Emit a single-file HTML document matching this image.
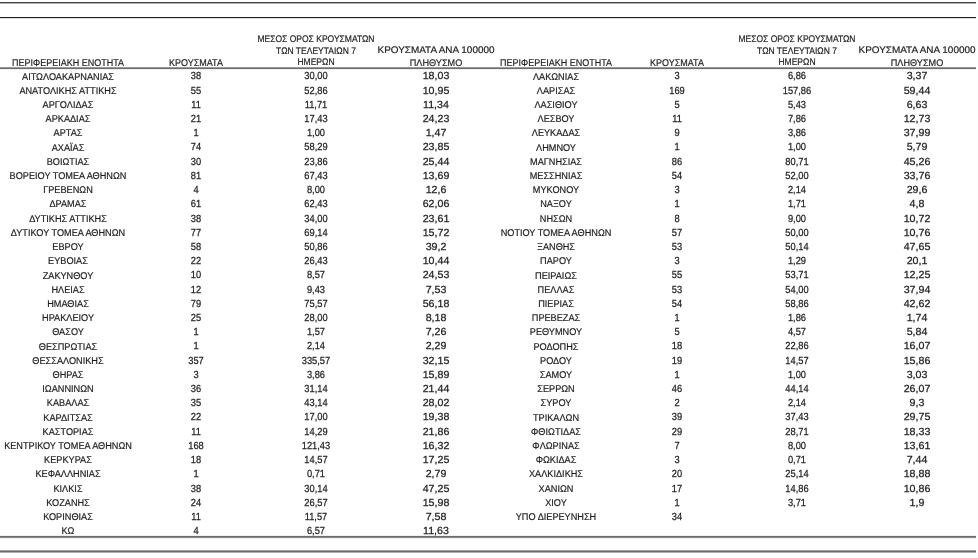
<!DOCTYPE html>
<html><head><meta charset="utf-8"><style>
html,body{margin:0;padding:0;background:#fff;}
#w{position:absolute;left:0;top:0;width:978px;height:558px;background:#fff;filter:grayscale(1);}
body{width:978px;height:558px;position:relative;overflow:hidden;text-rendering:geometricPrecision;font-family:"Liberation Sans",sans-serif;color:#1e1e1e;}
.c{position:absolute;width:160px;text-align:center;white-space:nowrap;line-height:14px;-webkit-text-stroke:0.2px #1e1e1e;}
.d{-webkit-text-stroke:0.25px #1e1e1e;}
.l{position:absolute;left:0;width:976px;height:1px;}
</style></head><body><div id="w">
<div class="l" style="top:2px;background:#404040"></div>
<div class="l" style="top:3px;background:#b4b4b4"></div>
<div class="l" style="top:17px;background:#1e1e1e"></div>
<div class="l" style="top:18px;background:#e0e0e0"></div>
<div class="l" style="top:67px;background:#9a9a9a"></div>
<div class="l" style="top:68px;background:#6c6c6c"></div>
<div class="l" style="top:69px;background:#f0f0f0"></div>
<div class="l" style="top:535px;background:#f0f0f0"></div>
<div class="l" style="top:536px;background:#6a6a6a"></div>
<div class="l" style="top:537px;background:#8a8a8a"></div>
<div class="l" style="top:538px;background:#f0f0f0"></div>
<div class="l" style="top:550px;background:#a0a0a0"></div>
<div class="l" style="top:551px;background:#6a6a6a"></div>
<div class="l" style="top:552px;background:#b0b0b0"></div>
<div class="c" style="left:-12.00px;top:70.60px;font-size:9.8px;transform:scaleX(0.935);">ΑΙΤΩΛΟΑΚΑΡΝΑΝΙΑΣ</div>
<div class="c d" style="left:116.20px;top:70.43px;font-size:10.3px;transform:scaleX(0.9028);">38</div>
<div class="c d" style="left:236.00px;top:70.43px;font-size:10.3px;transform:scaleX(0.9028);">30,00</div>
<div class="c d" style="left:355.60px;top:70.43px;font-size:10.3px;transform:scaleX(1.0339);">18,03</div>
<div class="c" style="left:-12.00px;top:84.81px;font-size:9.8px;transform:scaleX(0.935);">ΑΝΑΤΟΛΙΚΗΣ ΑΤΤΙΚΗΣ</div>
<div class="c d" style="left:116.20px;top:84.64px;font-size:10.3px;transform:scaleX(0.9028);">55</div>
<div class="c d" style="left:236.00px;top:84.64px;font-size:10.3px;transform:scaleX(0.9028);">52,86</div>
<div class="c d" style="left:355.60px;top:84.64px;font-size:10.3px;transform:scaleX(1.0339);">10,95</div>
<div class="c" style="left:-12.00px;top:99.02px;font-size:9.8px;transform:scaleX(0.935);">ΑΡΓΟΛΙΔΑΣ</div>
<div class="c d" style="left:116.20px;top:98.85px;font-size:10.3px;transform:scaleX(0.9028);">11</div>
<div class="c d" style="left:236.00px;top:98.85px;font-size:10.3px;transform:scaleX(0.9028);">11,71</div>
<div class="c d" style="left:355.60px;top:98.85px;font-size:10.3px;transform:scaleX(1.0339);">11,34</div>
<div class="c" style="left:-12.00px;top:113.23px;font-size:9.8px;transform:scaleX(0.935);">ΑΡΚΑΔΙΑΣ</div>
<div class="c d" style="left:116.20px;top:113.06px;font-size:10.3px;transform:scaleX(0.9028);">21</div>
<div class="c d" style="left:236.00px;top:113.06px;font-size:10.3px;transform:scaleX(0.9028);">17,43</div>
<div class="c d" style="left:355.60px;top:113.06px;font-size:10.3px;transform:scaleX(1.0339);">24,23</div>
<div class="c" style="left:-12.00px;top:127.44px;font-size:9.8px;transform:scaleX(0.935);">ΑΡΤΑΣ</div>
<div class="c d" style="left:116.20px;top:127.27px;font-size:10.3px;transform:scaleX(0.9028);">1</div>
<div class="c d" style="left:236.00px;top:127.27px;font-size:10.3px;transform:scaleX(0.9028);">1,00</div>
<div class="c d" style="left:355.60px;top:127.27px;font-size:10.3px;transform:scaleX(1.0339);">1,47</div>
<div class="c" style="left:-12.00px;top:141.65px;font-size:9.8px;transform:scaleX(0.935);">ΑΧΑΪΑΣ</div>
<div class="c d" style="left:116.20px;top:141.48px;font-size:10.3px;transform:scaleX(0.9028);">74</div>
<div class="c d" style="left:236.00px;top:141.48px;font-size:10.3px;transform:scaleX(0.9028);">58,29</div>
<div class="c d" style="left:355.60px;top:141.48px;font-size:10.3px;transform:scaleX(1.0339);">23,85</div>
<div class="c" style="left:-12.00px;top:155.86px;font-size:9.8px;transform:scaleX(0.935);">ΒΟΙΩΤΙΑΣ</div>
<div class="c d" style="left:116.20px;top:155.69px;font-size:10.3px;transform:scaleX(0.9028);">30</div>
<div class="c d" style="left:236.00px;top:155.69px;font-size:10.3px;transform:scaleX(0.9028);">23,86</div>
<div class="c d" style="left:355.60px;top:155.69px;font-size:10.3px;transform:scaleX(1.0339);">25,44</div>
<div class="c" style="left:-12.00px;top:170.07px;font-size:9.8px;transform:scaleX(0.935);">ΒΟΡΕΙΟΥ ΤΟΜΕΑ ΑΘΗΝΩΝ</div>
<div class="c d" style="left:116.20px;top:169.90px;font-size:10.3px;transform:scaleX(0.9028);">81</div>
<div class="c d" style="left:236.00px;top:169.90px;font-size:10.3px;transform:scaleX(0.9028);">67,43</div>
<div class="c d" style="left:355.60px;top:169.90px;font-size:10.3px;transform:scaleX(1.0339);">13,69</div>
<div class="c" style="left:-12.00px;top:184.28px;font-size:9.8px;transform:scaleX(0.935);">ΓΡΕΒΕΝΩΝ</div>
<div class="c d" style="left:116.20px;top:184.11px;font-size:10.3px;transform:scaleX(0.9028);">4</div>
<div class="c d" style="left:236.00px;top:184.11px;font-size:10.3px;transform:scaleX(0.9028);">8,00</div>
<div class="c d" style="left:355.60px;top:184.11px;font-size:10.3px;transform:scaleX(1.0339);">12,6</div>
<div class="c" style="left:-12.00px;top:198.49px;font-size:9.8px;transform:scaleX(0.935);">ΔΡΑΜΑΣ</div>
<div class="c d" style="left:116.20px;top:198.32px;font-size:10.3px;transform:scaleX(0.9028);">61</div>
<div class="c d" style="left:236.00px;top:198.32px;font-size:10.3px;transform:scaleX(0.9028);">62,43</div>
<div class="c d" style="left:355.60px;top:198.32px;font-size:10.3px;transform:scaleX(1.0339);">62,06</div>
<div class="c" style="left:-12.00px;top:212.70px;font-size:9.8px;transform:scaleX(0.935);">ΔΥΤΙΚΗΣ ΑΤΤΙΚΗΣ</div>
<div class="c d" style="left:116.20px;top:212.53px;font-size:10.3px;transform:scaleX(0.9028);">38</div>
<div class="c d" style="left:236.00px;top:212.53px;font-size:10.3px;transform:scaleX(0.9028);">34,00</div>
<div class="c d" style="left:355.60px;top:212.53px;font-size:10.3px;transform:scaleX(1.0339);">23,61</div>
<div class="c" style="left:-12.00px;top:226.91px;font-size:9.8px;transform:scaleX(0.935);">ΔΥΤΙΚΟΥ ΤΟΜΕΑ ΑΘΗΝΩΝ</div>
<div class="c d" style="left:116.20px;top:226.74px;font-size:10.3px;transform:scaleX(0.9028);">77</div>
<div class="c d" style="left:236.00px;top:226.74px;font-size:10.3px;transform:scaleX(0.9028);">69,14</div>
<div class="c d" style="left:355.60px;top:226.74px;font-size:10.3px;transform:scaleX(1.0339);">15,72</div>
<div class="c" style="left:-12.00px;top:241.12px;font-size:9.8px;transform:scaleX(0.935);">ΕΒΡΟΥ</div>
<div class="c d" style="left:116.20px;top:240.95px;font-size:10.3px;transform:scaleX(0.9028);">58</div>
<div class="c d" style="left:236.00px;top:240.95px;font-size:10.3px;transform:scaleX(0.9028);">50,86</div>
<div class="c d" style="left:355.60px;top:240.95px;font-size:10.3px;transform:scaleX(1.0339);">39,2</div>
<div class="c" style="left:-12.00px;top:255.33px;font-size:9.8px;transform:scaleX(0.935);">ΕΥΒΟΙΑΣ</div>
<div class="c d" style="left:116.20px;top:255.16px;font-size:10.3px;transform:scaleX(0.9028);">22</div>
<div class="c d" style="left:236.00px;top:255.16px;font-size:10.3px;transform:scaleX(0.9028);">26,43</div>
<div class="c d" style="left:355.60px;top:255.16px;font-size:10.3px;transform:scaleX(1.0339);">10,44</div>
<div class="c" style="left:-12.00px;top:269.54px;font-size:9.8px;transform:scaleX(0.935);">ΖΑΚΥΝΘΟΥ</div>
<div class="c d" style="left:116.20px;top:269.37px;font-size:10.3px;transform:scaleX(0.9028);">10</div>
<div class="c d" style="left:236.00px;top:269.37px;font-size:10.3px;transform:scaleX(0.9028);">8,57</div>
<div class="c d" style="left:355.60px;top:269.37px;font-size:10.3px;transform:scaleX(1.0339);">24,53</div>
<div class="c" style="left:-12.00px;top:283.75px;font-size:9.8px;transform:scaleX(0.935);">ΗΛΕΙΑΣ</div>
<div class="c d" style="left:116.20px;top:283.58px;font-size:10.3px;transform:scaleX(0.9028);">12</div>
<div class="c d" style="left:236.00px;top:283.58px;font-size:10.3px;transform:scaleX(0.9028);">9,43</div>
<div class="c d" style="left:355.60px;top:283.58px;font-size:10.3px;transform:scaleX(1.0339);">7,53</div>
<div class="c" style="left:-12.00px;top:297.96px;font-size:9.8px;transform:scaleX(0.935);">ΗΜΑΘΙΑΣ</div>
<div class="c d" style="left:116.20px;top:297.79px;font-size:10.3px;transform:scaleX(0.9028);">79</div>
<div class="c d" style="left:236.00px;top:297.79px;font-size:10.3px;transform:scaleX(0.9028);">75,57</div>
<div class="c d" style="left:355.60px;top:297.79px;font-size:10.3px;transform:scaleX(1.0339);">56,18</div>
<div class="c" style="left:-12.00px;top:312.17px;font-size:9.8px;transform:scaleX(0.935);">ΗΡΑΚΛΕΙΟΥ</div>
<div class="c d" style="left:116.20px;top:312.00px;font-size:10.3px;transform:scaleX(0.9028);">25</div>
<div class="c d" style="left:236.00px;top:312.00px;font-size:10.3px;transform:scaleX(0.9028);">28,00</div>
<div class="c d" style="left:355.60px;top:312.00px;font-size:10.3px;transform:scaleX(1.0339);">8,18</div>
<div class="c" style="left:-12.00px;top:326.38px;font-size:9.8px;transform:scaleX(0.935);">ΘΑΣΟΥ</div>
<div class="c d" style="left:116.20px;top:326.21px;font-size:10.3px;transform:scaleX(0.9028);">1</div>
<div class="c d" style="left:236.00px;top:326.21px;font-size:10.3px;transform:scaleX(0.9028);">1,57</div>
<div class="c d" style="left:355.60px;top:326.21px;font-size:10.3px;transform:scaleX(1.0339);">7,26</div>
<div class="c" style="left:-12.00px;top:340.59px;font-size:9.8px;transform:scaleX(0.935);">ΘΕΣΠΡΩΤΙΑΣ</div>
<div class="c d" style="left:116.20px;top:340.42px;font-size:10.3px;transform:scaleX(0.9028);">1</div>
<div class="c d" style="left:236.00px;top:340.42px;font-size:10.3px;transform:scaleX(0.9028);">2,14</div>
<div class="c d" style="left:355.60px;top:340.42px;font-size:10.3px;transform:scaleX(1.0339);">2,29</div>
<div class="c" style="left:-12.00px;top:354.80px;font-size:9.8px;transform:scaleX(0.935);">ΘΕΣΣΑΛΟΝΙΚΗΣ</div>
<div class="c d" style="left:116.20px;top:354.63px;font-size:10.3px;transform:scaleX(0.9028);">357</div>
<div class="c d" style="left:236.00px;top:354.63px;font-size:10.3px;transform:scaleX(0.9028);">335,57</div>
<div class="c d" style="left:355.60px;top:354.63px;font-size:10.3px;transform:scaleX(1.0339);">32,15</div>
<div class="c" style="left:-12.00px;top:369.01px;font-size:9.8px;transform:scaleX(0.935);">ΘΗΡΑΣ</div>
<div class="c d" style="left:116.20px;top:368.84px;font-size:10.3px;transform:scaleX(0.9028);">3</div>
<div class="c d" style="left:236.00px;top:368.84px;font-size:10.3px;transform:scaleX(0.9028);">3,86</div>
<div class="c d" style="left:355.60px;top:368.84px;font-size:10.3px;transform:scaleX(1.0339);">15,89</div>
<div class="c" style="left:-12.00px;top:383.22px;font-size:9.8px;transform:scaleX(0.935);">ΙΩΑΝΝΙΝΩΝ</div>
<div class="c d" style="left:116.20px;top:383.05px;font-size:10.3px;transform:scaleX(0.9028);">36</div>
<div class="c d" style="left:236.00px;top:383.05px;font-size:10.3px;transform:scaleX(0.9028);">31,14</div>
<div class="c d" style="left:355.60px;top:383.05px;font-size:10.3px;transform:scaleX(1.0339);">21,44</div>
<div class="c" style="left:-12.00px;top:397.43px;font-size:9.8px;transform:scaleX(0.935);">ΚΑΒΑΛΑΣ</div>
<div class="c d" style="left:116.20px;top:397.26px;font-size:10.3px;transform:scaleX(0.9028);">35</div>
<div class="c d" style="left:236.00px;top:397.26px;font-size:10.3px;transform:scaleX(0.9028);">43,14</div>
<div class="c d" style="left:355.60px;top:397.26px;font-size:10.3px;transform:scaleX(1.0339);">28,02</div>
<div class="c" style="left:-12.00px;top:411.64px;font-size:9.8px;transform:scaleX(0.935);">ΚΑΡΔΙΤΣΑΣ</div>
<div class="c d" style="left:116.20px;top:411.47px;font-size:10.3px;transform:scaleX(0.9028);">22</div>
<div class="c d" style="left:236.00px;top:411.47px;font-size:10.3px;transform:scaleX(0.9028);">17,00</div>
<div class="c d" style="left:355.60px;top:411.47px;font-size:10.3px;transform:scaleX(1.0339);">19,38</div>
<div class="c" style="left:-12.00px;top:425.85px;font-size:9.8px;transform:scaleX(0.935);">ΚΑΣΤΟΡΙΑΣ</div>
<div class="c d" style="left:116.20px;top:425.68px;font-size:10.3px;transform:scaleX(0.9028);">11</div>
<div class="c d" style="left:236.00px;top:425.68px;font-size:10.3px;transform:scaleX(0.9028);">14,29</div>
<div class="c d" style="left:355.60px;top:425.68px;font-size:10.3px;transform:scaleX(1.0339);">21,86</div>
<div class="c" style="left:-12.00px;top:440.06px;font-size:9.8px;transform:scaleX(0.935);">ΚΕΝΤΡΙΚΟΥ ΤΟΜΕΑ ΑΘΗΝΩΝ</div>
<div class="c d" style="left:116.20px;top:439.89px;font-size:10.3px;transform:scaleX(0.9028);">168</div>
<div class="c d" style="left:236.00px;top:439.89px;font-size:10.3px;transform:scaleX(0.9028);">121,43</div>
<div class="c d" style="left:355.60px;top:439.89px;font-size:10.3px;transform:scaleX(1.0339);">16,32</div>
<div class="c" style="left:-12.00px;top:454.27px;font-size:9.8px;transform:scaleX(0.935);">ΚΕΡΚΥΡΑΣ</div>
<div class="c d" style="left:116.20px;top:454.10px;font-size:10.3px;transform:scaleX(0.9028);">18</div>
<div class="c d" style="left:236.00px;top:454.10px;font-size:10.3px;transform:scaleX(0.9028);">14,57</div>
<div class="c d" style="left:355.60px;top:454.10px;font-size:10.3px;transform:scaleX(1.0339);">17,25</div>
<div class="c" style="left:-12.00px;top:468.48px;font-size:9.8px;transform:scaleX(0.935);">ΚΕΦΑΛΛΗΝΙΑΣ</div>
<div class="c d" style="left:116.20px;top:468.31px;font-size:10.3px;transform:scaleX(0.9028);">1</div>
<div class="c d" style="left:236.00px;top:468.31px;font-size:10.3px;transform:scaleX(0.9028);">0,71</div>
<div class="c d" style="left:355.60px;top:468.31px;font-size:10.3px;transform:scaleX(1.0339);">2,79</div>
<div class="c" style="left:-12.00px;top:482.69px;font-size:9.8px;transform:scaleX(0.935);">ΚΙΛΚΙΣ</div>
<div class="c d" style="left:116.20px;top:482.52px;font-size:10.3px;transform:scaleX(0.9028);">38</div>
<div class="c d" style="left:236.00px;top:482.52px;font-size:10.3px;transform:scaleX(0.9028);">30,14</div>
<div class="c d" style="left:355.60px;top:482.52px;font-size:10.3px;transform:scaleX(1.0339);">47,25</div>
<div class="c" style="left:-12.00px;top:496.90px;font-size:9.8px;transform:scaleX(0.935);">ΚΟΖΑΝΗΣ</div>
<div class="c d" style="left:116.20px;top:496.73px;font-size:10.3px;transform:scaleX(0.9028);">24</div>
<div class="c d" style="left:236.00px;top:496.73px;font-size:10.3px;transform:scaleX(0.9028);">26,57</div>
<div class="c d" style="left:355.60px;top:496.73px;font-size:10.3px;transform:scaleX(1.0339);">15,98</div>
<div class="c" style="left:-12.00px;top:511.11px;font-size:9.8px;transform:scaleX(0.935);">ΚΟΡΙΝΘΙΑΣ</div>
<div class="c d" style="left:116.20px;top:510.94px;font-size:10.3px;transform:scaleX(0.9028);">11</div>
<div class="c d" style="left:236.00px;top:510.94px;font-size:10.3px;transform:scaleX(0.9028);">11,57</div>
<div class="c d" style="left:355.60px;top:510.94px;font-size:10.3px;transform:scaleX(1.0339);">7,58</div>
<div class="c" style="left:-12.00px;top:525.32px;font-size:9.8px;transform:scaleX(0.935);">ΚΩ</div>
<div class="c d" style="left:116.20px;top:525.15px;font-size:10.3px;transform:scaleX(0.9028);">4</div>
<div class="c d" style="left:236.00px;top:525.15px;font-size:10.3px;transform:scaleX(0.9028);">6,57</div>
<div class="c d" style="left:355.60px;top:525.15px;font-size:10.3px;transform:scaleX(1.0339);">11,63</div>
<div class="c" style="left:-12.00px;top:56.60px;font-size:9.8px;transform:scaleX(0.9184);">ΠΕΡΙΦΕΡΕΙΑΚΗ ΕΝΟΤΗΤΑ</div>
<div class="c" style="left:116.20px;top:56.60px;font-size:9.8px;transform:scaleX(0.9184);">ΚΡΟΥΣΜΑΤΑ</div>
<div class="c" style="left:236.00px;top:33.37px;font-size:9.6px;transform:scaleX(0.8864);">ΜΕΣΟΣ ΟΡΟΣ ΚΡΟΥΣΜΑΤΩΝ</div>
<div class="c" style="left:236.00px;top:44.67px;font-size:9.6px;transform:scaleX(0.8864);">ΤΩΝ ΤΕΛΕΥΤΑΙΩΝ 7</div>
<div class="c" style="left:236.00px;top:56.47px;font-size:9.6px;transform:scaleX(0.8864);">ΗΜΕΡΩΝ</div>
<div class="c" style="left:355.60px;top:44.47px;font-size:9.6px;transform:scaleX(1.0353);">ΚΡΟΥΣΜΑΤΑ ΑΝΑ 100000</div>
<div class="c" style="left:355.60px;top:57.47px;font-size:9.6px;transform:scaleX(0.951);">ΠΛΗΘΥΣΜΟ</div>
<div class="c" style="left:476.40px;top:70.60px;font-size:9.8px;transform:scaleX(0.935);">ΛΑΚΩΝΙΑΣ</div>
<div class="c d" style="left:597.20px;top:70.43px;font-size:10.3px;transform:scaleX(0.9028);">3</div>
<div class="c d" style="left:716.80px;top:70.43px;font-size:10.3px;transform:scaleX(0.9028);">6,86</div>
<div class="c d" style="left:836.50px;top:70.43px;font-size:10.3px;transform:scaleX(1.0339);">3,37</div>
<div class="c" style="left:476.40px;top:84.81px;font-size:9.8px;transform:scaleX(0.935);">ΛΑΡΙΣΑΣ</div>
<div class="c d" style="left:597.20px;top:84.64px;font-size:10.3px;transform:scaleX(0.9028);">169</div>
<div class="c d" style="left:716.80px;top:84.64px;font-size:10.3px;transform:scaleX(0.9028);">157,86</div>
<div class="c d" style="left:836.50px;top:84.64px;font-size:10.3px;transform:scaleX(1.0339);">59,44</div>
<div class="c" style="left:476.40px;top:99.02px;font-size:9.8px;transform:scaleX(0.935);">ΛΑΣΙΘΙΟΥ</div>
<div class="c d" style="left:597.20px;top:98.85px;font-size:10.3px;transform:scaleX(0.9028);">5</div>
<div class="c d" style="left:716.80px;top:98.85px;font-size:10.3px;transform:scaleX(0.9028);">5,43</div>
<div class="c d" style="left:836.50px;top:98.85px;font-size:10.3px;transform:scaleX(1.0339);">6,63</div>
<div class="c" style="left:476.40px;top:113.23px;font-size:9.8px;transform:scaleX(0.935);">ΛΕΣΒΟΥ</div>
<div class="c d" style="left:597.20px;top:113.06px;font-size:10.3px;transform:scaleX(0.9028);">11</div>
<div class="c d" style="left:716.80px;top:113.06px;font-size:10.3px;transform:scaleX(0.9028);">7,86</div>
<div class="c d" style="left:836.50px;top:113.06px;font-size:10.3px;transform:scaleX(1.0339);">12,73</div>
<div class="c" style="left:476.40px;top:127.44px;font-size:9.8px;transform:scaleX(0.935);">ΛΕΥΚΑΔΑΣ</div>
<div class="c d" style="left:597.20px;top:127.27px;font-size:10.3px;transform:scaleX(0.9028);">9</div>
<div class="c d" style="left:716.80px;top:127.27px;font-size:10.3px;transform:scaleX(0.9028);">3,86</div>
<div class="c d" style="left:836.50px;top:127.27px;font-size:10.3px;transform:scaleX(1.0339);">37,99</div>
<div class="c" style="left:476.40px;top:141.65px;font-size:9.8px;transform:scaleX(0.935);">ΛΗΜΝΟΥ</div>
<div class="c d" style="left:597.20px;top:141.48px;font-size:10.3px;transform:scaleX(0.9028);">1</div>
<div class="c d" style="left:716.80px;top:141.48px;font-size:10.3px;transform:scaleX(0.9028);">1,00</div>
<div class="c d" style="left:836.50px;top:141.48px;font-size:10.3px;transform:scaleX(1.0339);">5,79</div>
<div class="c" style="left:476.40px;top:155.86px;font-size:9.8px;transform:scaleX(0.935);">ΜΑΓΝΗΣΙΑΣ</div>
<div class="c d" style="left:597.20px;top:155.69px;font-size:10.3px;transform:scaleX(0.9028);">86</div>
<div class="c d" style="left:716.80px;top:155.69px;font-size:10.3px;transform:scaleX(0.9028);">80,71</div>
<div class="c d" style="left:836.50px;top:155.69px;font-size:10.3px;transform:scaleX(1.0339);">45,26</div>
<div class="c" style="left:476.40px;top:170.07px;font-size:9.8px;transform:scaleX(0.935);">ΜΕΣΣΗΝΙΑΣ</div>
<div class="c d" style="left:597.20px;top:169.90px;font-size:10.3px;transform:scaleX(0.9028);">54</div>
<div class="c d" style="left:716.80px;top:169.90px;font-size:10.3px;transform:scaleX(0.9028);">52,00</div>
<div class="c d" style="left:836.50px;top:169.90px;font-size:10.3px;transform:scaleX(1.0339);">33,76</div>
<div class="c" style="left:476.40px;top:184.28px;font-size:9.8px;transform:scaleX(0.935);">ΜΥΚΟΝΟΥ</div>
<div class="c d" style="left:597.20px;top:184.11px;font-size:10.3px;transform:scaleX(0.9028);">3</div>
<div class="c d" style="left:716.80px;top:184.11px;font-size:10.3px;transform:scaleX(0.9028);">2,14</div>
<div class="c d" style="left:836.50px;top:184.11px;font-size:10.3px;transform:scaleX(1.0339);">29,6</div>
<div class="c" style="left:476.40px;top:198.49px;font-size:9.8px;transform:scaleX(0.935);">ΝΑΞΟΥ</div>
<div class="c d" style="left:597.20px;top:198.32px;font-size:10.3px;transform:scaleX(0.9028);">1</div>
<div class="c d" style="left:716.80px;top:198.32px;font-size:10.3px;transform:scaleX(0.9028);">1,71</div>
<div class="c d" style="left:836.50px;top:198.32px;font-size:10.3px;transform:scaleX(1.0339);">4,8</div>
<div class="c" style="left:476.40px;top:212.70px;font-size:9.8px;transform:scaleX(0.935);">ΝΗΣΩΝ</div>
<div class="c d" style="left:597.20px;top:212.53px;font-size:10.3px;transform:scaleX(0.9028);">8</div>
<div class="c d" style="left:716.80px;top:212.53px;font-size:10.3px;transform:scaleX(0.9028);">9,00</div>
<div class="c d" style="left:836.50px;top:212.53px;font-size:10.3px;transform:scaleX(1.0339);">10,72</div>
<div class="c" style="left:476.40px;top:226.91px;font-size:9.8px;transform:scaleX(0.935);">ΝΟΤΙΟΥ ΤΟΜΕΑ ΑΘΗΝΩΝ</div>
<div class="c d" style="left:597.20px;top:226.74px;font-size:10.3px;transform:scaleX(0.9028);">57</div>
<div class="c d" style="left:716.80px;top:226.74px;font-size:10.3px;transform:scaleX(0.9028);">50,00</div>
<div class="c d" style="left:836.50px;top:226.74px;font-size:10.3px;transform:scaleX(1.0339);">10,76</div>
<div class="c" style="left:476.40px;top:241.12px;font-size:9.8px;transform:scaleX(0.935);">ΞΑΝΘΗΣ</div>
<div class="c d" style="left:597.20px;top:240.95px;font-size:10.3px;transform:scaleX(0.9028);">53</div>
<div class="c d" style="left:716.80px;top:240.95px;font-size:10.3px;transform:scaleX(0.9028);">50,14</div>
<div class="c d" style="left:836.50px;top:240.95px;font-size:10.3px;transform:scaleX(1.0339);">47,65</div>
<div class="c" style="left:476.40px;top:255.33px;font-size:9.8px;transform:scaleX(0.935);">ΠΑΡΟΥ</div>
<div class="c d" style="left:597.20px;top:255.16px;font-size:10.3px;transform:scaleX(0.9028);">3</div>
<div class="c d" style="left:716.80px;top:255.16px;font-size:10.3px;transform:scaleX(0.9028);">1,29</div>
<div class="c d" style="left:836.50px;top:255.16px;font-size:10.3px;transform:scaleX(1.0339);">20,1</div>
<div class="c" style="left:476.40px;top:269.54px;font-size:9.8px;transform:scaleX(0.935);">ΠΕΙΡΑΙΩΣ</div>
<div class="c d" style="left:597.20px;top:269.37px;font-size:10.3px;transform:scaleX(0.9028);">55</div>
<div class="c d" style="left:716.80px;top:269.37px;font-size:10.3px;transform:scaleX(0.9028);">53,71</div>
<div class="c d" style="left:836.50px;top:269.37px;font-size:10.3px;transform:scaleX(1.0339);">12,25</div>
<div class="c" style="left:476.40px;top:283.75px;font-size:9.8px;transform:scaleX(0.935);">ΠΕΛΛΑΣ</div>
<div class="c d" style="left:597.20px;top:283.58px;font-size:10.3px;transform:scaleX(0.9028);">53</div>
<div class="c d" style="left:716.80px;top:283.58px;font-size:10.3px;transform:scaleX(0.9028);">54,00</div>
<div class="c d" style="left:836.50px;top:283.58px;font-size:10.3px;transform:scaleX(1.0339);">37,94</div>
<div class="c" style="left:476.40px;top:297.96px;font-size:9.8px;transform:scaleX(0.935);">ΠΙΕΡΙΑΣ</div>
<div class="c d" style="left:597.20px;top:297.79px;font-size:10.3px;transform:scaleX(0.9028);">54</div>
<div class="c d" style="left:716.80px;top:297.79px;font-size:10.3px;transform:scaleX(0.9028);">58,86</div>
<div class="c d" style="left:836.50px;top:297.79px;font-size:10.3px;transform:scaleX(1.0339);">42,62</div>
<div class="c" style="left:476.40px;top:312.17px;font-size:9.8px;transform:scaleX(0.935);">ΠΡΕΒΕΖΑΣ</div>
<div class="c d" style="left:597.20px;top:312.00px;font-size:10.3px;transform:scaleX(0.9028);">1</div>
<div class="c d" style="left:716.80px;top:312.00px;font-size:10.3px;transform:scaleX(0.9028);">1,86</div>
<div class="c d" style="left:836.50px;top:312.00px;font-size:10.3px;transform:scaleX(1.0339);">1,74</div>
<div class="c" style="left:476.40px;top:326.38px;font-size:9.8px;transform:scaleX(0.935);">ΡΕΘΥΜΝΟΥ</div>
<div class="c d" style="left:597.20px;top:326.21px;font-size:10.3px;transform:scaleX(0.9028);">5</div>
<div class="c d" style="left:716.80px;top:326.21px;font-size:10.3px;transform:scaleX(0.9028);">4,57</div>
<div class="c d" style="left:836.50px;top:326.21px;font-size:10.3px;transform:scaleX(1.0339);">5,84</div>
<div class="c" style="left:476.40px;top:340.59px;font-size:9.8px;transform:scaleX(0.935);">ΡΟΔΟΠΗΣ</div>
<div class="c d" style="left:597.20px;top:340.42px;font-size:10.3px;transform:scaleX(0.9028);">18</div>
<div class="c d" style="left:716.80px;top:340.42px;font-size:10.3px;transform:scaleX(0.9028);">22,86</div>
<div class="c d" style="left:836.50px;top:340.42px;font-size:10.3px;transform:scaleX(1.0339);">16,07</div>
<div class="c" style="left:476.40px;top:354.80px;font-size:9.8px;transform:scaleX(0.935);">ΡΟΔΟΥ</div>
<div class="c d" style="left:597.20px;top:354.63px;font-size:10.3px;transform:scaleX(0.9028);">19</div>
<div class="c d" style="left:716.80px;top:354.63px;font-size:10.3px;transform:scaleX(0.9028);">14,57</div>
<div class="c d" style="left:836.50px;top:354.63px;font-size:10.3px;transform:scaleX(1.0339);">15,86</div>
<div class="c" style="left:476.40px;top:369.01px;font-size:9.8px;transform:scaleX(0.935);">ΣΑΜΟΥ</div>
<div class="c d" style="left:597.20px;top:368.84px;font-size:10.3px;transform:scaleX(0.9028);">1</div>
<div class="c d" style="left:716.80px;top:368.84px;font-size:10.3px;transform:scaleX(0.9028);">1,00</div>
<div class="c d" style="left:836.50px;top:368.84px;font-size:10.3px;transform:scaleX(1.0339);">3,03</div>
<div class="c" style="left:476.40px;top:383.22px;font-size:9.8px;transform:scaleX(0.935);">ΣΕΡΡΩΝ</div>
<div class="c d" style="left:597.20px;top:383.05px;font-size:10.3px;transform:scaleX(0.9028);">46</div>
<div class="c d" style="left:716.80px;top:383.05px;font-size:10.3px;transform:scaleX(0.9028);">44,14</div>
<div class="c d" style="left:836.50px;top:383.05px;font-size:10.3px;transform:scaleX(1.0339);">26,07</div>
<div class="c" style="left:476.40px;top:397.43px;font-size:9.8px;transform:scaleX(0.935);">ΣΥΡΟΥ</div>
<div class="c d" style="left:597.20px;top:397.26px;font-size:10.3px;transform:scaleX(0.9028);">2</div>
<div class="c d" style="left:716.80px;top:397.26px;font-size:10.3px;transform:scaleX(0.9028);">2,14</div>
<div class="c d" style="left:836.50px;top:397.26px;font-size:10.3px;transform:scaleX(1.0339);">9,3</div>
<div class="c" style="left:476.40px;top:411.64px;font-size:9.8px;transform:scaleX(0.935);">ΤΡΙΚΑΛΩΝ</div>
<div class="c d" style="left:597.20px;top:411.47px;font-size:10.3px;transform:scaleX(0.9028);">39</div>
<div class="c d" style="left:716.80px;top:411.47px;font-size:10.3px;transform:scaleX(0.9028);">37,43</div>
<div class="c d" style="left:836.50px;top:411.47px;font-size:10.3px;transform:scaleX(1.0339);">29,75</div>
<div class="c" style="left:476.40px;top:425.85px;font-size:9.8px;transform:scaleX(0.935);">ΦΘΙΩΤΙΔΑΣ</div>
<div class="c d" style="left:597.20px;top:425.68px;font-size:10.3px;transform:scaleX(0.9028);">29</div>
<div class="c d" style="left:716.80px;top:425.68px;font-size:10.3px;transform:scaleX(0.9028);">28,71</div>
<div class="c d" style="left:836.50px;top:425.68px;font-size:10.3px;transform:scaleX(1.0339);">18,33</div>
<div class="c" style="left:476.40px;top:440.06px;font-size:9.8px;transform:scaleX(0.935);">ΦΛΩΡΙΝΑΣ</div>
<div class="c d" style="left:597.20px;top:439.89px;font-size:10.3px;transform:scaleX(0.9028);">7</div>
<div class="c d" style="left:716.80px;top:439.89px;font-size:10.3px;transform:scaleX(0.9028);">8,00</div>
<div class="c d" style="left:836.50px;top:439.89px;font-size:10.3px;transform:scaleX(1.0339);">13,61</div>
<div class="c" style="left:476.40px;top:454.27px;font-size:9.8px;transform:scaleX(0.935);">ΦΩΚΙΔΑΣ</div>
<div class="c d" style="left:597.20px;top:454.10px;font-size:10.3px;transform:scaleX(0.9028);">3</div>
<div class="c d" style="left:716.80px;top:454.10px;font-size:10.3px;transform:scaleX(0.9028);">0,71</div>
<div class="c d" style="left:836.50px;top:454.10px;font-size:10.3px;transform:scaleX(1.0339);">7,44</div>
<div class="c" style="left:476.40px;top:468.48px;font-size:9.8px;transform:scaleX(0.935);">ΧΑΛΚΙΔΙΚΗΣ</div>
<div class="c d" style="left:597.20px;top:468.31px;font-size:10.3px;transform:scaleX(0.9028);">20</div>
<div class="c d" style="left:716.80px;top:468.31px;font-size:10.3px;transform:scaleX(0.9028);">25,14</div>
<div class="c d" style="left:836.50px;top:468.31px;font-size:10.3px;transform:scaleX(1.0339);">18,88</div>
<div class="c" style="left:476.40px;top:482.69px;font-size:9.8px;transform:scaleX(0.935);">ΧΑΝΙΩΝ</div>
<div class="c d" style="left:597.20px;top:482.52px;font-size:10.3px;transform:scaleX(0.9028);">17</div>
<div class="c d" style="left:716.80px;top:482.52px;font-size:10.3px;transform:scaleX(0.9028);">14,86</div>
<div class="c d" style="left:836.50px;top:482.52px;font-size:10.3px;transform:scaleX(1.0339);">10,86</div>
<div class="c" style="left:476.40px;top:496.90px;font-size:9.8px;transform:scaleX(0.935);">ΧΙΟΥ</div>
<div class="c d" style="left:597.20px;top:496.73px;font-size:10.3px;transform:scaleX(0.9028);">1</div>
<div class="c d" style="left:716.80px;top:496.73px;font-size:10.3px;transform:scaleX(0.9028);">3,71</div>
<div class="c d" style="left:836.50px;top:496.73px;font-size:10.3px;transform:scaleX(1.0339);">1,9</div>
<div class="c" style="left:476.40px;top:511.11px;font-size:9.8px;transform:scaleX(0.935);">ΥΠΟ ΔΙΕΡΕΥΝΗΣΗ</div>
<div class="c d" style="left:597.20px;top:510.94px;font-size:10.3px;transform:scaleX(0.9028);">34</div>
<div class="c" style="left:476.40px;top:56.60px;font-size:9.8px;transform:scaleX(0.9184);">ΠΕΡΙΦΕΡΕΙΑΚΗ ΕΝΟΤΗΤΑ</div>
<div class="c" style="left:597.20px;top:56.60px;font-size:9.8px;transform:scaleX(0.9184);">ΚΡΟΥΣΜΑΤΑ</div>
<div class="c" style="left:716.80px;top:33.37px;font-size:9.6px;transform:scaleX(0.8864);">ΜΕΣΟΣ ΟΡΟΣ ΚΡΟΥΣΜΑΤΩΝ</div>
<div class="c" style="left:716.80px;top:44.67px;font-size:9.6px;transform:scaleX(0.8864);">ΤΩΝ ΤΕΛΕΥΤΑΙΩΝ 7</div>
<div class="c" style="left:716.80px;top:56.47px;font-size:9.6px;transform:scaleX(0.8864);">ΗΜΕΡΩΝ</div>
<div class="c" style="left:836.50px;top:44.47px;font-size:9.6px;transform:scaleX(1.0353);">ΚΡΟΥΣΜΑΤΑ ΑΝΑ 100000</div>
<div class="c" style="left:836.50px;top:57.47px;font-size:9.6px;transform:scaleX(0.951);">ΠΛΗΘΥΣΜΟ</div>
</div></body></html>
